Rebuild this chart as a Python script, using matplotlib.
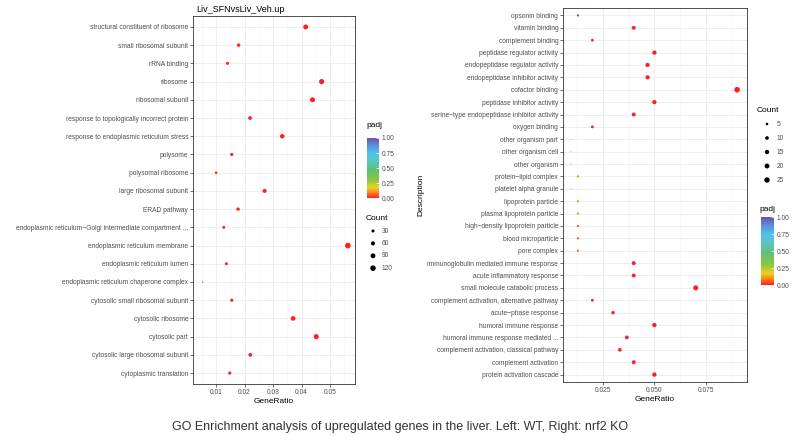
import matplotlib.pyplot as plt
import matplotlib as mpl
import numpy as np
from matplotlib.colors import LinearSegmentedColormap, Normalize
from matplotlib.cm import ScalarMappable

mpl.rcParams.update({
    "font.family": ["Liberation Sans", "DejaVu Sans"],
    "font.size": 5,
})

DPI = 100
W, H = 800, 436

# ---- left panel: WT ----
left_title = "Liv_SFNvsLiv_Veh.up"
left_terms = [
    "structural constituent of ribosome",
    "small ribosomal subunit",
    "rRNA binding",
    "ribosome",
    "ribosomal subunit",
    "response to topologically incorrect protein",
    "response to endoplasmic reticulum stress",
    "polysome",
    "polysomal ribosome",
    "large ribosomal subunit",
    "ERAD pathway",
    "endoplasmic reticulum\u2212Golgi intermediate compartment ...",
    "endoplasmic reticulum membrane",
    "endoplasmic reticulum lumen",
    "endoplasmic reticulum chaperone complex",
    "cytosolic small ribosomal subunit",
    "cytosolic ribosome",
    "cytosolic part",
    "cytosolic large ribosomal subunit",
    "cytoplasmic translation",
]
left_ratio = [0.0414, 0.0179, 0.0140, 0.0470, 0.0438, 0.0219, 0.0332, 0.0155,
              0.0100, 0.0270, 0.0177, 0.0127, 0.0562, 0.0136, 0.0053, 0.0155,
              0.0370, 0.0451, 0.0220, 0.0148]
left_count = [91, 39, 31, 103, 96, 48, 73, 34, 22, 59, 39, 28, 124, 30, 12, 34,
              81, 99, 48, 33]
left_padj = [0.001] * 14 + [0.02] + [0.001] * 5
left_xticks = [0.01, 0.02, 0.03, 0.04, 0.05]
left_xticklabels = ["0.01", "0.02", "0.03", "0.04", "0.05"]
left_count_legend = [30, 60, 90, 120]

# ---- right panel: nrf2 KO ----
right_terms = [
    "opsonin binding",
    "vitamin binding",
    "complement binding",
    "peptidase regulator activity",
    "endopeptidase regulator activity",
    "endopeptidase inhibitor activity",
    "cofactor binding",
    "peptidase inhibitor activity",
    "serine\u2212type endopeptidase inhibitor activity",
    "oxygen binding",
    "other organism part",
    "other organism cell",
    "other organism",
    "protein\u2212lipid complex",
    "platelet alpha granule",
    "lipoprotein particle",
    "plasma lipoprotein particle",
    "high\u2212density lipoprotein particle",
    "blood microparticle",
    "pore complex",
    "immunoglobulin mediated immune response",
    "acute inflammatory response",
    "small molecule catabolic process",
    "complement activation, alternative pathway",
    "acute\u2212phase response",
    "humoral immune response",
    "humoral immune response mediated ...",
    "complement activation, classical pathway",
    "complement activation",
    "protein activation cascade",
]
right_ratio = [0.0130, 0.0400, 0.0200, 0.0500, 0.0467, 0.0467, 0.0900, 0.0500,
               0.0400, 0.0200, 0.0097, 0.0097, 0.0097, 0.0130, 0.0097, 0.0130,
               0.0130, 0.0130, 0.0130, 0.0130, 0.0400, 0.0400, 0.0700, 0.0200,
               0.0300, 0.0500, 0.0367, 0.0333, 0.0400, 0.0500]
right_count = [4, 12, 6, 15, 14, 14, 27, 15, 12, 6, 3, 3, 3, 4, 3, 4, 4, 4, 4, 4,
               12, 12, 21, 6, 9, 15, 11, 10, 12, 15]
right_padj = [0.001] * 10 + [0.17, 0.17, 0.17, 0.10, 0.17, 0.10, 0.10,
                             0.05, 0.05, 0.05] + [0.001] * 10
right_xticks = [0.025, 0.050, 0.075]
right_xticklabels = ["0.025", "0.050", "0.075"]
right_count_legend = [5, 10, 15, 20, 25]

padj_ticks = [0.0, 0.25, 0.5, 0.75, 1.0]
caption = "GO Enrichment analysis of upregulated genes in the liver. Left: WT, Right: nrf2 KO"

cmap = LinearSegmentedColormap.from_list("padj", [
    (0.00, "#FF1F1F"), (0.08, "#FF7A1A"), (0.17, "#E9D21F"),
    (0.30, "#8CC63F"), (0.48, "#5CC07A"), (0.62, "#5BC7C4"),
    (0.75, "#4FC3EC"), (0.88, "#5A8FDB"), (1.00, "#6A4FB0"),
])
norm = Normalize(0, 1)
TXT = "#4D4D4D"
LAB = 4.8


def dot_size(c, lo, hi, dmin=1.3, dmax=5.6):
    frac = np.clip((np.asarray(c, float) - lo) / (hi - lo), 0, 1)
    d = dmin + (dmax - dmin) * np.sqrt(frac)
    return (d * 72 / DPI) ** 2


def px_box(x0, y0, x1, y1):
    return [x0 / W, 1 - y1 / H, (x1 - x0) / W, (y1 - y0) / H]


def dot_panel(ax, terms, ratio, count, padj, xlim, xticks, xlabels):
    y = np.arange(len(terms))
    ax.scatter(ratio, y, s=dot_size(count, min(count), max(count)),
               c=padj, cmap=cmap, norm=norm, linewidths=0, zorder=3)
    ax.set_yticks(y)
    ax.set_yticklabels(terms, fontsize=LAB, color=TXT)
    ax.set_ylim(len(terms) - 1 + 0.6, -0.6)
    ax.set_xlim(xlim)
    ax.set_xticks(xticks)
    ax.set_xticklabels(xlabels, fontsize=LAB, color=TXT)
    step = xticks[1] - xticks[0]
    ax.set_xticks(np.arange(xticks[0] - step / 2, xlim[1], step), minor=True)
    ax.grid(which="major", color="#EBEBEB", lw=0.6)
    ax.grid(which="minor", axis="x", color="#F3F3F3", lw=0.4)
    ax.set_axisbelow(True)
    ax.tick_params(which="major", length=2, width=0.5, color="#333333", pad=1.5)
    ax.tick_params(which="minor", length=0)
    for sp in ax.spines.values():
        sp.set_color("#333333")
        sp.set_linewidth(0.6)
    ax.set_xlabel("GeneRatio", fontsize=6, labelpad=1.5)


fig = plt.figure(figsize=(W / DPI, H / DPI), dpi=DPI)

axl = fig.add_axes(px_box(193, 16, 355, 384))
dot_panel(axl, left_terms, left_ratio, left_count, left_padj,
          (0.0019, 0.0587), left_xticks, left_xticklabels)
axl.set_title(left_title, fontsize=6.5, loc="left", pad=3, x=0.02)

axr = fig.add_axes(px_box(563, 8, 747, 382))
dot_panel(axr, right_terms, right_ratio, right_count, right_padj,
          (0.0058, 0.0948), right_xticks, right_xticklabels)
axr.set_ylabel("Description", fontsize=6, labelpad=2)


def colorbar(box):
    cax = fig.add_axes(px_box(*box))
    cb = fig.colorbar(ScalarMappable(norm=norm, cmap=cmap), cax=cax, ticks=padj_ticks)
    cb.outline.set_visible(False)
    cax.set_yticklabels([f"{t:.2f}" for t in padj_ticks], fontsize=LAB, color=TXT)
    cax.tick_params(length=2, width=0.5, color="white", direction="in", pad=2)
    return cax


# legends drawn in pixel coordinates on an overlay
ov = fig.add_axes([0, 0, 1, 1])
ov.set_xlim(0, W)
ov.set_ylim(H, 0)
ov.axis("off")

# left legends
ov.text(366, 125, "padj", fontsize=6, va="center", ha="left")
colorbar((367, 138, 379, 198))
ov.text(366, 218, "Count", fontsize=6, va="center", ha="left")
ly = 231 + 12.4 * np.arange(len(left_count_legend))
ov.scatter([373] * len(ly), ly,
           s=dot_size(left_count_legend, min(left_count), max(left_count)),
           color="black", linewidths=0)
for yy, c in zip(ly, left_count_legend):
    ov.text(382, yy, str(c), fontsize=LAB, va="center", color=TXT)

# right legends
ov.text(757, 110, "Count", fontsize=6, va="center", ha="left")
ry = 124 + 14 * np.arange(len(right_count_legend))
ov.scatter([767] * len(ry), ry,
           s=dot_size(right_count_legend, min(right_count), max(right_count)),
           color="black", linewidths=0)
for yy, c in zip(ry, right_count_legend):
    ov.text(777, yy, str(c), fontsize=LAB, va="center", color=TXT)
ov.text(759, 209, "padj", fontsize=6, va="center", ha="left")
colorbar((761, 217, 774, 285))

fig.text(0.5, 1 - 427 / H, caption, ha="center", va="center",
         fontsize=9, color="#333333")

fig.savefig("out.png", dpi=DPI)
